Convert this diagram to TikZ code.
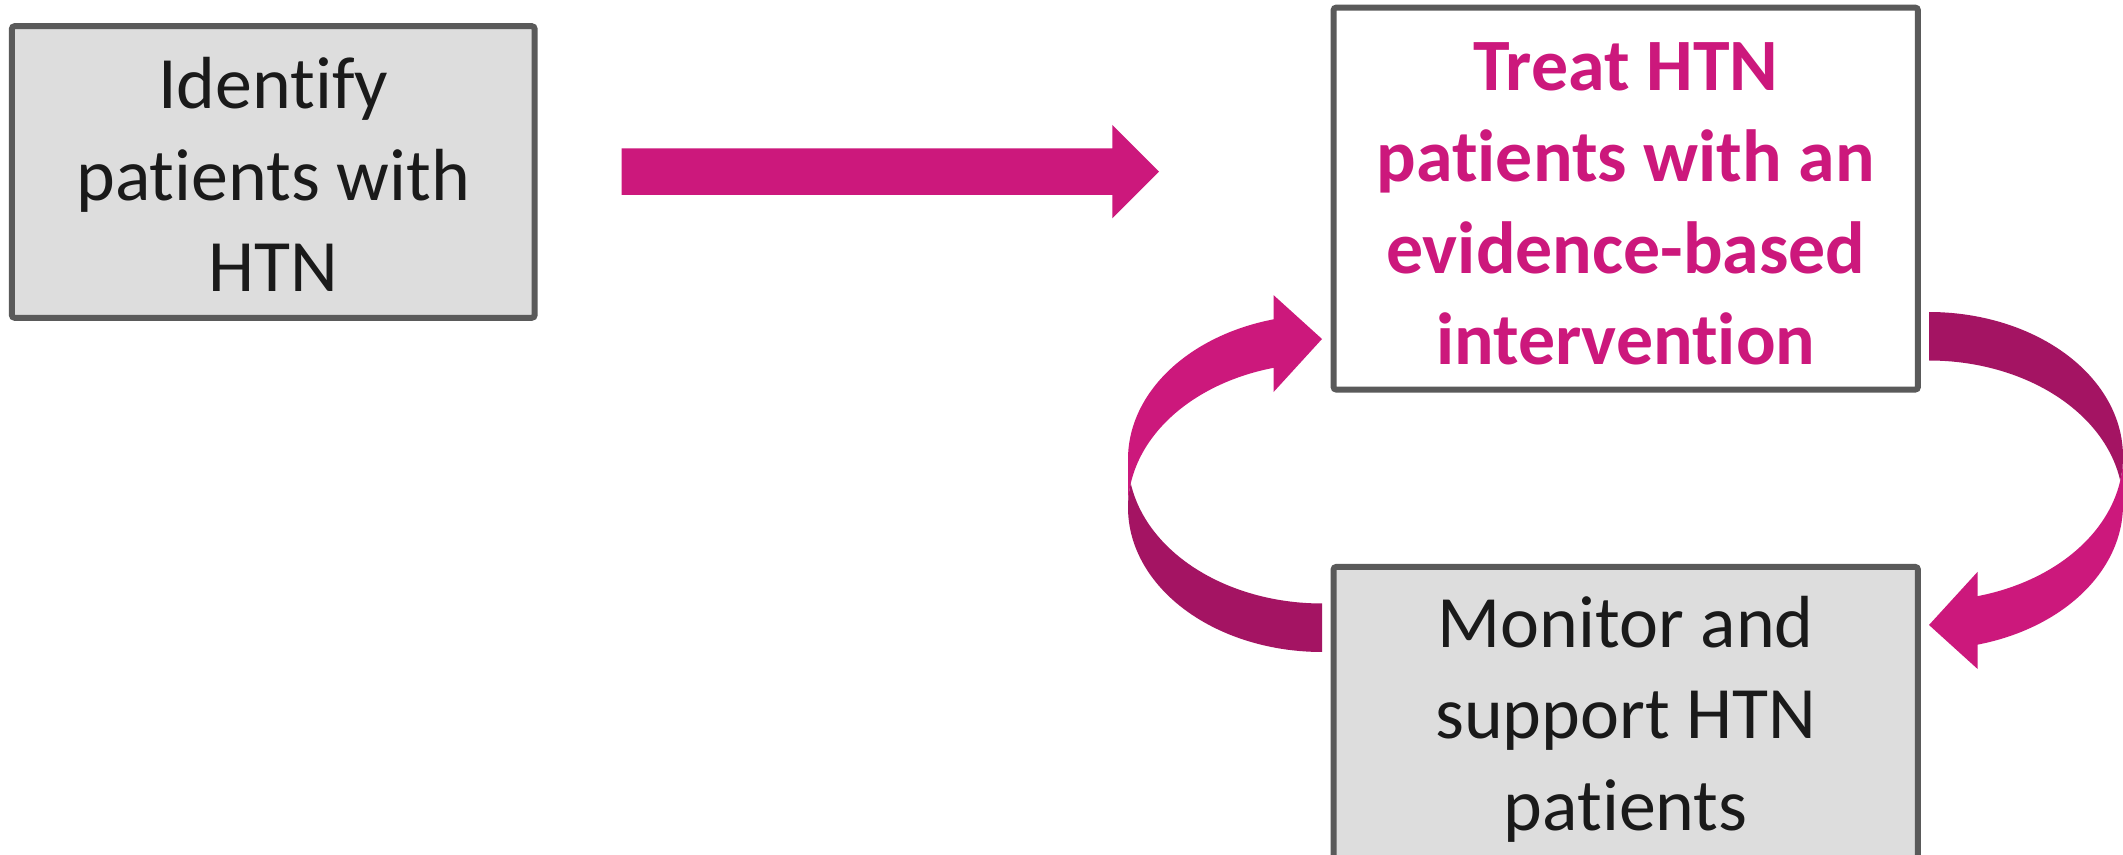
\documentclass[tikz,border=0pt]{standalone}
\usepackage{fontspec}
\setmainfont{Carlito}[Ligatures=NoCommon]
\definecolor{pinkc}{HTML}{CC187C}
\definecolor{darkpink}{HTML}{A41463}
\definecolor{boxline}{HTML}{5A5A5A}
\definecolor{boxfill}{HTML}{DDDDDD}
\definecolor{txt}{HTML}{1A1A1A}
\newcommand\ribbonarrow{%
  \fill[pinkc] (0,144.375)
    -- plot[domain=180:104.4775,samples=60,variable=\t] ({194+194*cos(\t)},{144.375+144.375*sin(\t)})
    -- (145.5,259.92) -- (194,313) -- (145.5,356.92) -- (145.5,332.67)
    -- plot[domain=104.4775:180,samples=60,variable=\t] ({194+194*cos(\t)},{192.875+144.375*sin(\t)})
    -- cycle;
  \fill[darkpink] (194,48.5)
    -- plot[domain=270:189.67,samples=60,variable=\t] ({194+194*cos(\t)},{192.875+144.375*sin(\t)})
    -- plot[domain=170.33:270,samples=60,variable=\t] ({194+194*cos(\t)},{144.375+144.375*sin(\t)})
    -- cycle;
}
\tikzset{
  procbox/.style={draw=boxline, line width=1.7pt, rounded corners=0.8pt, align=center,
    inner sep=0pt, font=\fontsize{21}{26}\selectfont},
  greybox/.style={procbox, fill=boxfill, text=txt},
  whitebox/.style={procbox, fill=white, text=pinkc, font=\fontsize{21}{26}\selectfont\bfseries},
}
\begin{document}
\begin{tikzpicture}[x=0.01cm,y=-0.01cm]
\useasboundingbox (0,0) rectangle (2123,855);
\clip (0,0) rectangle (2123,855);
\fill[white] (0,0) rectangle (2123,855);

\node[greybox, minimum width=5.225cm, minimum height=2.914cm] (identify) at (273.25,172)
  {};
\node[txt, align=center, font=\fontsize{21}{26}\selectfont] (identifytext) at (273.25,174.5)
  {Identify\\patients with\\HTN};
\node[whitebox, minimum width=5.841cm, minimum height=3.818cm] (treat) at (1625.75,198.6)
  {};
\node[text=pinkc, align=center, font=\fontsize{21}{26}\selectfont\bfseries] (treattext) at (1625.75,204)
  {Treat HTN\\patients with an\\evidence-based\\intervention};
\node[greybox, minimum width=5.841cm, minimum height=2.96cm] (monitor) at (1625.75,715)
  {};
\node[txt, align=center, font=\fontsize{21}{26}\selectfont] (monitortext) at (1625.75,719)
  {Monitor and\\support HTN\\patients};

% straight block arrow
\coordinate (sa) at (621.5,171.7);
\fill[pinkc] ([yshift=0.234cm]sa) -- ++(490.8,0) -- ++(0,-23.3) -- ++(46.7,46.7)
  -- ++(-46.7,46.6) -- ++(0,-23.3) -- ++(-490.8,0) -- cycle;

% left curved arrow (monitor -> treat)
\begin{scope}[shift={(1128,652)}, yscale=-1]
  \ribbonarrow
\end{scope}
% right curved arrow (treat -> monitor)
\begin{scope}[shift={(2123,312)}, xscale=-1]
  \ribbonarrow
\end{scope}
\end{tikzpicture}
\end{document}
